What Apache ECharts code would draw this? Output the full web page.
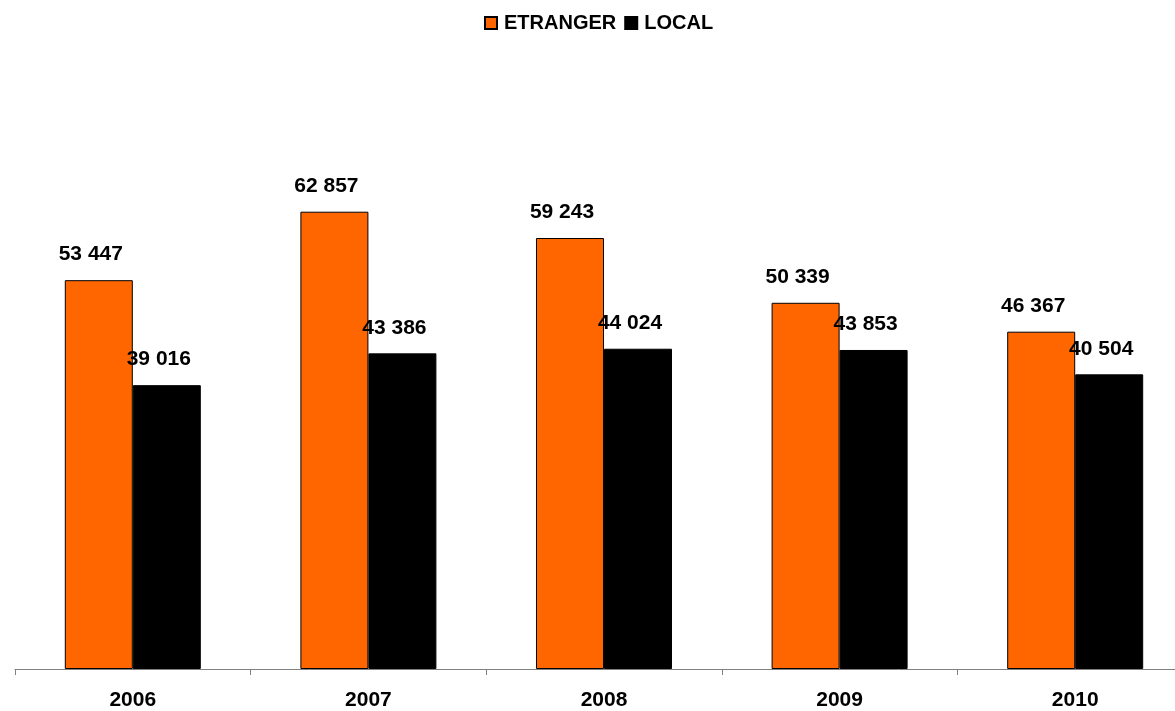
<!DOCTYPE html>
<html>
<head>
<meta charset="utf-8">
<script src="https://cdn.jsdelivr.net/npm/echarts@6/dist/echarts.min.js"></script>
<style>
  html, body { margin: 0; padding: 0; background: #fff; overflow: hidden; }
  /* plot area runs a little past the right edge of the window */
  #chart { width: 1193px; height: 711px; }
</style>
</head>
<body>
<div id="chart"></div>
<script>
// Yearly counts, foreign vs local
const years = ['2006', '2007', '2008', '2009', '2010'];
const etranger = [53447, 62857, 59243, 50339, 46367];
const local = [39016, 43386, 44024, 43853, 40504];

const FONT = '"Liberation Sans", Arial, sans-serif';

function fmt(v) {
  return String(v).replace(/\B(?=(\d{3})+(?!\d))/g, ' ');
}

const labelStyle = {
  show: true,
  position: 'top',
  distance: 15,
  offset: [-8, 0],
  color: '#000',
  fontFamily: FONT,
  fontWeight: 'bold',
  fontSize: 21,
  formatter: p => fmt(p.value)
};

const chart = echarts.init(document.getElementById('chart'), null, { renderer: 'canvas' });
chart.setOption({
  animation: false,
  backgroundColor: '#fff',
  legend: {
    top: 8,
    left: 479,
    itemWidth: 12,
    itemHeight: 12,
    itemGap: 8,
    icon: 'rect',
    textStyle: {
      fontFamily: FONT, fontWeight: 'bold', fontSize: 20, color: '#000',
      padding: [0, 0, 0, 2]
    },
    data: ['ETRANGER', 'LOCAL']
  },
  grid: { left: 15, top: 87, bottom: 42, right: 0, containLabel: false },
  xAxis: {
    type: 'category',
    data: years,
    axisLine: { lineStyle: { color: '#808080', width: 1 } },
    axisTick: { show: true, length: 6, lineStyle: { color: '#808080' } },
    axisLabel: { margin: 21, color: '#000', fontFamily: FONT, fontWeight: 'bold', fontSize: 21 }
  },
  yAxis: {
    type: 'value',
    min: 0,
    max: 80000,
    show: false,
    splitLine: { show: false }
  },
  series: [
    {
      name: 'ETRANGER',
      type: 'bar',
      data: etranger,
      barWidth: 68,
      barGap: '0%',
      itemStyle: { color: '#FF6600', borderColor: '#000', borderWidth: 1 },
      label: labelStyle
    },
    {
      name: 'LOCAL',
      type: 'bar',
      data: local,
      barWidth: 68,
      itemStyle: { color: '#000', borderColor: '#000', borderWidth: 1 },
      label: labelStyle
    }
  ]
});
</script>
</body>
</html>
